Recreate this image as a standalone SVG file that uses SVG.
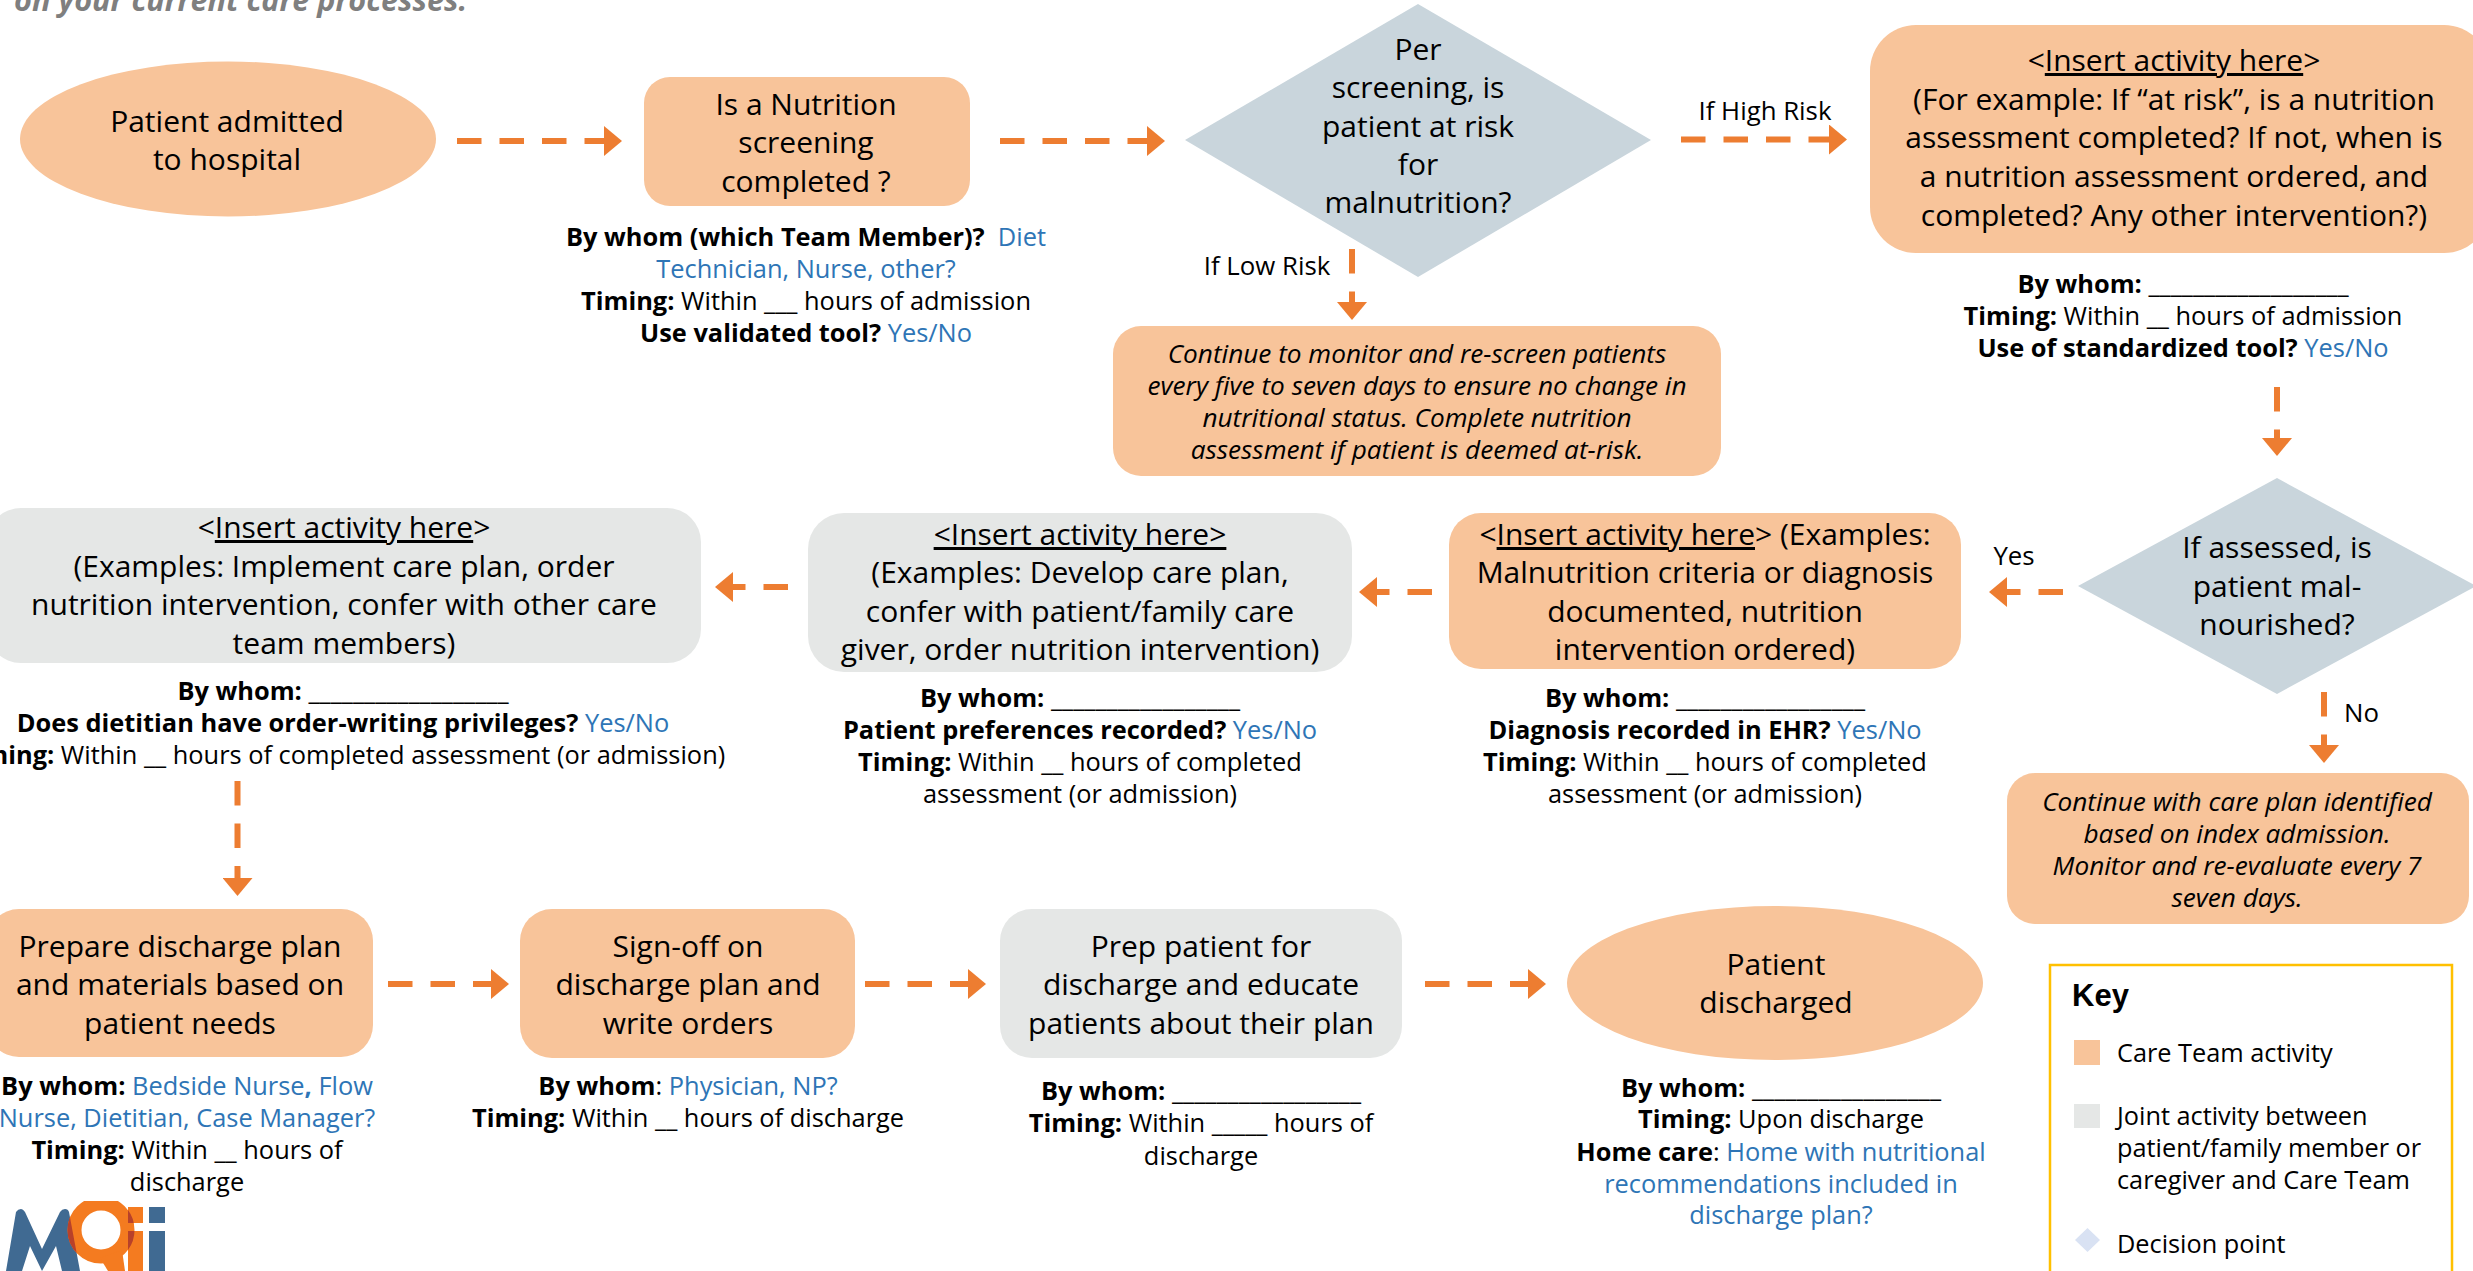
<svg xmlns="http://www.w3.org/2000/svg" width="2473" height="1271" viewBox="0 0 2473 1271">
<style>
text{font-family:"Open Sans","Noto Sans","Liberation Sans",sans-serif;fill:#000;text-anchor:middle}
.m{font-size:30px}
.s{font-size:25.400px}
.i{font-size:26.200px;font-style:italic}
.lb{font-size:25.800px}
.b{font-weight:700}
.l{fill:#2E75B6}
.u{text-decoration:underline}
.care{fill:#F8C49A}
.joint{fill:#E5E7E6}
.dec{fill:#C9D5DC}
.c{fill:none;stroke:#ED7D31;stroke-width:6;stroke-dasharray:24.5 18;marker-end:url(#h)}
.key{font-size:25.300px;text-anchor:start}
</style>
<defs>
<marker id="h" markerUnits="userSpaceOnUse" markerWidth="18" markerHeight="30" refX="0" refY="15" orient="auto"><path d="M0 0L18 15L0 30z" fill="#ED7D31"/></marker>
<clipPath id="cm"><path d="M6 1271L16 1212Q18 1209 21 1209Q23 1209 25 1212L42 1249L60 1212Q62 1209 65 1209Q68 1209 69 1212L80 1271L62 1271L56 1246L42 1271L30 1246L22 1271z"/></clipPath>
<clipPath id="ci"><rect x="128" y="1207" width="15" height="16"/><rect x="128" y="1231" width="15" height="40"/></clipPath>
<clipPath id="ct"><rect x="0" y="1201" width="200" height="70"/></clipPath>
</defs>
<text id="note" x="14" y="11" style="text-anchor:start;font-size:30.600px;font-weight:700;font-style:italic;fill:#7F7F7F">on your current care processes.</text>
<g id="connectors">
<path class="c" d="M457 141H604"/>
<path class="c" d="M1000 141H1147"/>
<path class="c" d="M1681 139.500H1829"/>
<path class="c" d="M1352 249V302"/>
<path class="c" d="M2277 387V438"/>
<path class="c" d="M2063 592H2007"/>
<path class="c" d="M2324 692V745"/>
<path class="c" d="M1432 592H1377"/>
<path class="c" d="M788 587H733"/>
<path class="c" d="M237.500 781V878"/>
<path class="c" d="M388 984H491"/>
<path class="c" d="M865 984H968"/>
<path class="c" d="M1425 984H1528"/>
</g>
<g id="labels">
<text class="lb" x="1765" y="120">If High Risk</text>
<text class="lb" x="1267" y="275">If Low Risk</text>
<text class="lb" x="2014" y="565">Yes</text>
<text class="lb" x="2344" y="722" style="text-anchor:start">No</text>
</g>
<g id="n-admit"><ellipse class="care" cx="228" cy="139" rx="208" ry="77.500"/>
<text class="m"><tspan x="227" y="132">Patient admitted</tspan><tspan x="227" y="170">to hospital</tspan></text></g>
<g id="n-screen"><rect class="care" x="644" y="77" width="326" height="129" rx="26"/>
<text class="m"><tspan x="806" y="115">Is a Nutrition</tspan><tspan x="806" y="153">screening</tspan><tspan x="806" y="192">completed ?</tspan></text>
<text class="s"><tspan x="806" y="246" class="b">By whom (which Team Member)?&#160; </tspan><tspan class="l">Diet</tspan><tspan x="806" y="278" class="l">Technician, Nurse, other?</tspan><tspan x="806" y="310" class="b">Timing: </tspan><tspan>Within ___ hours of admission</tspan><tspan x="806" y="342" class="b">Use validated tool? </tspan><tspan class="l">Yes/No</tspan></text></g>
<g id="n-risk"><path class="dec" d="M1418 4L1651 140L1418 277L1185 140z"/>
<text class="m"><tspan x="1418" y="60">Per</tspan><tspan x="1418" y="98">screening, is</tspan><tspan x="1418" y="137">patient at risk</tspan><tspan x="1418" y="175">for</tspan><tspan x="1418" y="213">malnutrition?</tspan></text></g>
<g id="n-monitor"><rect class="care" x="1113" y="326" width="608" height="150" rx="28"/>
<text class="i"><tspan x="1417" y="363">Continue to monitor and re-screen patients</tspan><tspan x="1417" y="395">every five to seven days to ensure no change in</tspan><tspan x="1417" y="427">nutritional status. Complete nutrition</tspan><tspan x="1417" y="459">assessment if patient is deemed at-risk.</tspan></text></g>
<g id="n-assess"><rect class="care" x="1870" y="25" width="620" height="228" rx="46"/>
<text class="m"><tspan x="2174" y="71">&lt;</tspan><tspan class="u">Insert activity here</tspan><tspan>&gt;</tspan><tspan x="2174" y="110">(For example: If “at risk”, is a nutrition</tspan><tspan x="2174" y="148">assessment completed? If not, when is</tspan><tspan x="2174" y="187">a nutrition assessment ordered, and</tspan><tspan x="2174" y="226">completed? Any other intervention?)</tspan></text>
<text class="s"><tspan x="2183" y="293" class="b">By whom: </tspan><tspan>__________________</tspan><tspan x="2183" y="325" class="b">Timing: </tspan><tspan>Within __ hours of admission</tspan><tspan x="2183" y="357" class="b">Use of standardized tool? </tspan><tspan class="l">Yes/No</tspan></text></g>
<g id="n-mal"><path class="dec" d="M2277 478L2476 586L2277 694L2078 586z"/>
<text class="m"><tspan x="2277" y="558">If assessed, is</tspan><tspan x="2277" y="597">patient mal-</tspan><tspan x="2277" y="635">nourished?</tspan></text></g>
<g id="n-continue"><rect class="care" x="2007" y="773" width="462" height="151" rx="28"/>
<text class="i"><tspan x="2237" y="811">Continue with care plan identified</tspan><tspan x="2237" y="843">based on index admission.</tspan><tspan x="2237" y="875">Monitor and re-evaluate every 7</tspan><tspan x="2237" y="907">seven days.</tspan></text></g>
<g id="n-diagnosis"><rect class="care" x="1449" y="513" width="512" height="156" rx="32"/>
<text class="m"><tspan x="1705" y="545">&lt;</tspan><tspan class="u">Insert activity here</tspan><tspan>&gt; (Examples:</tspan><tspan x="1705" y="583">Malnutrition criteria or diagnosis</tspan><tspan x="1705" y="622">documented, nutrition</tspan><tspan x="1705" y="660">intervention ordered)</tspan></text>
<text class="s"><tspan x="1705" y="707" class="b">By whom: </tspan><tspan>_________________</tspan><tspan x="1705" y="739" class="b">Diagnosis recorded in EHR? </tspan><tspan class="l">Yes/No</tspan><tspan x="1705" y="771" class="b">Timing: </tspan><tspan>Within __ hours of completed</tspan><tspan x="1705" y="803">assessment (or admission)</tspan></text></g>
<g id="n-plan"><rect class="joint" x="808" y="513" width="544" height="159" rx="36"/>
<text class="m"><tspan x="1080" y="545" class="u">&lt;Insert activity here&gt;</tspan><tspan x="1080" y="583">(Examples: Develop care plan,</tspan><tspan x="1080" y="622">confer with patient/family care</tspan><tspan x="1080" y="660">giver, order nutrition intervention)</tspan></text>
<text class="s"><tspan x="1080" y="707" class="b">By whom: </tspan><tspan>_________________</tspan><tspan x="1080" y="739" class="b">Patient preferences recorded? </tspan><tspan class="l">Yes/No</tspan><tspan x="1080" y="771" class="b">Timing: </tspan><tspan>Within __ hours of completed</tspan><tspan x="1080" y="803">assessment (or admission)</tspan></text></g>
<g id="n-implement"><rect class="joint" x="-13" y="508" width="714" height="155" rx="34"/>
<text class="m"><tspan x="344" y="538">&lt;</tspan><tspan class="u">Insert activity here</tspan><tspan>&gt;</tspan><tspan x="344" y="577">(Examples: Implement care plan, order</tspan><tspan x="344" y="615">nutrition intervention, confer with other care</tspan><tspan x="344" y="654">team members)</tspan></text>
<text class="s"><tspan x="343" y="700" class="b">By whom: </tspan><tspan>__________________</tspan><tspan x="343" y="732" class="b">Does dietitian have order-writing privileges? </tspan><tspan class="l">Yes/No</tspan><tspan x="343" y="764" class="b">Timing: </tspan><tspan>Within __ hours of completed assessment (or admission)</tspan></text></g>
<g id="n-prepare"><rect class="care" x="-13" y="909" width="386" height="148" rx="32"/>
<text class="m"><tspan x="180" y="957">Prepare discharge plan</tspan><tspan x="180" y="995">and materials based on</tspan><tspan x="180" y="1034">patient needs</tspan></text>
<text class="s"><tspan x="187" y="1095" class="b">By whom: </tspan><tspan class="l">Bedside Nurse</tspan><tspan class="l b">,</tspan><tspan class="l"> Flow</tspan><tspan x="187" y="1127" class="l">Nurse, Dietitian, Case Manager?</tspan><tspan x="187" y="1159" class="b">Timing: </tspan><tspan>Within __ hours of</tspan><tspan x="187" y="1191">discharge</tspan></text></g>
<g id="n-signoff"><rect class="care" x="520" y="909" width="335" height="149" rx="32"/>
<text class="m"><tspan x="688" y="957">Sign-off on</tspan><tspan x="688" y="995">discharge plan and</tspan><tspan x="688" y="1034">write orders</tspan></text>
<text class="s"><tspan x="688" y="1095" class="b">By whom</tspan><tspan>: </tspan><tspan class="l">Physician, NP?</tspan><tspan x="688" y="1127" class="b">Timing: </tspan><tspan>Within __ hours of discharge</tspan></text></g>
<g id="n-prep"><rect class="joint" x="1000" y="909" width="402" height="149" rx="32"/>
<text class="m"><tspan x="1201" y="957">Prep patient for</tspan><tspan x="1201" y="995">discharge and educate</tspan><tspan x="1201" y="1034">patients about their plan</tspan></text>
<text class="s"><tspan x="1201" y="1100" class="b">By whom: </tspan><tspan>_________________</tspan><tspan x="1201" y="1132" class="b">Timing: </tspan><tspan>Within _____ hours of</tspan><tspan x="1201" y="1165">discharge</tspan></text></g>
<g id="n-discharged"><ellipse class="care" cx="1775" cy="983" rx="208" ry="77"/>
<text class="m"><tspan x="1776" y="975">Patient</tspan><tspan x="1776" y="1013">discharged</tspan></text>
<text class="s"><tspan x="1781" y="1097" class="b">By whom: </tspan><tspan>_________________</tspan><tspan x="1781" y="1128" class="b">Timing: </tspan><tspan>Upon discharge</tspan><tspan x="1781" y="1161" class="b">Home care</tspan><tspan>: </tspan><tspan class="l">Home with nutritional</tspan><tspan x="1781" y="1193" class="l">recommendations included in</tspan><tspan x="1781" y="1224" class="l">discharge plan?</tspan></text></g>
<g id="key">
<rect x="2050" y="965" width="402" height="320" fill="#fff" stroke="#FFC000" stroke-width="2.500"/>
<text x="2072" y="1006" style="text-anchor:start;font-family:'Liberation Sans',sans-serif;font-size:31px;font-weight:700">Key</text>
<rect class="care" x="2074" y="1040" width="26" height="25"/>
<text class="key"><tspan x="2117" y="1062">Care Team activity</tspan></text>
<rect class="joint" x="2074" y="1104" width="26" height="24"/>
<text class="key"><tspan x="2117" y="1125">Joint activity between</tspan><tspan x="2117" y="1157">patient/family member or</tspan><tspan x="2117" y="1189">caregiver and Care Team</tspan></text>
<path d="M2087.500 1228L2100 1240L2087.500 1252L2075 1240z" fill="#D9E2F3"/>
<text class="key"><tspan x="2117" y="1253">Decision point</tspan></text>
</g>
<g id="logo">
<path d="M6 1271L16 1212Q18 1209 21 1209Q23 1209 25 1212L42 1249L60 1212Q62 1209 65 1209Q68 1209 69 1212L80 1271L62 1271L56 1246L42 1271L30 1246L22 1271z" fill="#406A92"/>
<rect x="149" y="1207" width="16" height="16" fill="#406A92"/>
<rect x="149" y="1231" width="16" height="40" fill="#406A92"/>
<rect x="128" y="1207" width="15" height="16" fill="#F47B20"/>
<rect x="128" y="1231" width="15" height="40" fill="#F47B20"/>
<g clip-path="url(#ct)">
<circle cx="101" cy="1230" r="26.500" fill="none" stroke="#F47B20" stroke-width="14"/>
<path d="M100 1258L122 1250L125 1271L108 1271z" fill="#F47B20"/>
<g clip-path="url(#cm)"><circle cx="101" cy="1230" r="26.500" fill="none" stroke="#B8412A" stroke-width="14"/></g>
<g clip-path="url(#ci)"><circle cx="101" cy="1230" r="26.500" fill="none" stroke="#B8412A" stroke-width="14"/></g>
</g>
<text x="167" y="1276" style="text-anchor:start;font-size:7px;fill:#888">TM</text>
</g>
</svg>
